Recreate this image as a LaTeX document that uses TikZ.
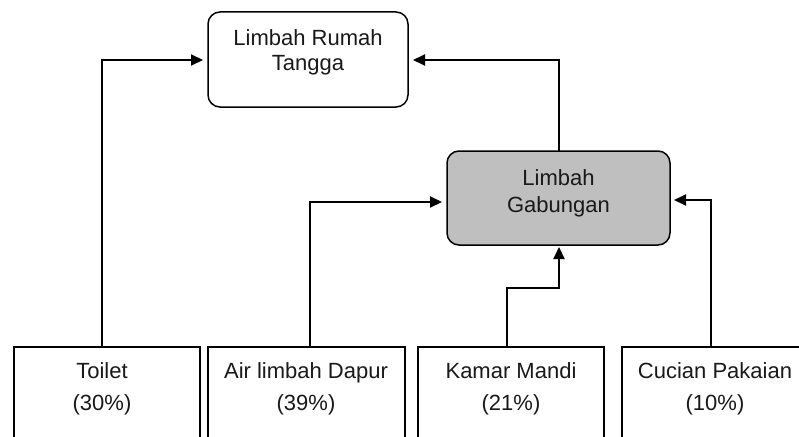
\documentclass[tikz,border=0pt]{standalone}
\usepackage{fontspec}
\setmainfont{Liberation Sans}
\usetikzlibrary{arrows.meta}
\begin{document}
\begin{tikzpicture}[x=1pt,y=-1pt,
  every node/.style={inner sep=0pt, outer sep=0pt},
  txt/.style={font=\fontsize{22}{25}\selectfont, align=center, text=black!90},
  txtb/.style={font=\fontsize{22}{32}\selectfont, align=center, text=black!90},
  rbox/.style={draw=black, line width=1.5pt, rounded corners=12pt},
  srcbox/.style={draw=black, line width=1.5pt, fill=white},
  conn/.style={line width=2pt, -{Triangle[length=12pt,width=11pt]}, shorten >=5pt}
]
\useasboundingbox (0,0) rectangle (799,436);
\begin{scope}
\clip (0,0) rectangle (799,436);
% top box
\node[rbox, minimum width=200pt, minimum height=95pt] (rt) at (308,59.5) {};
\node[txt] (rtt) at (308,52.5) {Limbah Rumah\\Tangga};
% combined box
\node[rbox, fill=black!25, minimum width=223pt, minimum height=94pt] (gb) at (558.5,198) {};
\node[txt, font=\fontsize{22}{27}\selectfont] (gbt) at (558.5,193.5) {Limbah\\Gabungan};
% source boxes
\node[srcbox, minimum width=186pt, minimum height=100pt, anchor=north west] (t) at (14,347) {};
\node[srcbox, minimum width=197pt, minimum height=100pt, anchor=north west] (a) at (208,347) {};
\node[srcbox, minimum width=186pt, minimum height=100pt, anchor=north west] (k) at (418,347) {};
\node[srcbox, minimum width=190pt, minimum height=100pt, anchor=north west] (c) at (622,347) {};
\node[txtb] (tt) at (102,389) {Toilet\\(30\%)};
\node[txtb] (at) at (306,389) {Air limbah Dapur\\(39\%)};
\node[txtb] (kt) at (511,389) {Kamar Mandi\\(21\%)};
\node[txtb] (ct) at (715,389) {Cucian Pakaian\\(10\%)};
% connectors
\coordinate (tb) at (102,347);
\coordinate (ab) at (310,347);
\coordinate (kb) at (507,347);
\coordinate (cb) at (711,347);
\coordinate (e1) at (102,60);
\coordinate (e2) at (559,60);
\coordinate (e3) at (310,202);
\coordinate (e4) at (507,288);
\coordinate (e5) at (559,288);
\coordinate (e6) at (711,200);
\draw[conn] (tb) -- (e1) -- (e1 -| rt.west);
\draw[conn] (gb.north -| e2) -- (e2) -- (e2 -| rt.east);
\draw[conn] (ab) -- (e3) -- (e3 -| gb.west);
\draw[conn, shorten >=2pt] (kb) -- (e4) -- (e5) -- (e5 |- gb.south);
\draw[conn, shorten >=4pt] (cb) -- (e6) -- (e6 -| gb.east);
\end{scope}
\end{tikzpicture}
\end{document}
